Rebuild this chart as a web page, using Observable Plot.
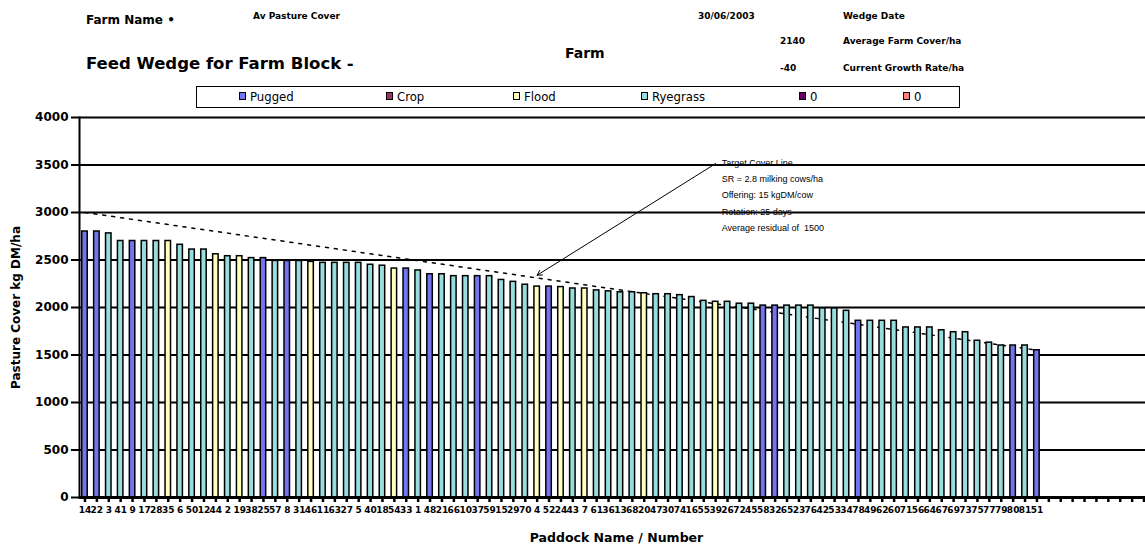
<!DOCTYPE html>
<html>
<head>
<meta charset="utf-8">
<script src="https://cdn.jsdelivr.net/npm/d3@7"></script>
<script src="https://cdn.jsdelivr.net/npm/@observablehq/plot@0.6"></script>
<style>
  body { margin: 0; background: #fff; }
  #page { position: relative; width: 1145px; height: 547px; overflow: hidden; background: #fff; font-family: "DejaVu Sans", sans-serif; color: #000; }
  .h { position: absolute; font-weight: bold; white-space: nowrap; line-height: 1; }
  #legend { position: absolute; left: 196px; top: 86px; width: 762px; height: 20px; border: 1.5px solid #000; background: #fff; }
  .sw { position: absolute; top: 5px; width: 5px; height: 6px; border: 1px solid #000; }
  .lt { position: absolute; top: 3px; font-family: "Liberation Sans Narrow", "DejaVu Sans Condensed", sans-serif; font-size: 13px; line-height: 1; }
  #chart { position: absolute; left: 0; top: 110px; }
</style>
</head>
<body>
<div id="page">
  <div id="header"></div>
  <div id="legend"></div>
  <div id="chart"></div>
</div>
<script>
// ---------------- data ----------------
const paddocks = ["14","22","3","41","9","17","28","35","6","50",
  "12","44","2","19","38","25","57","8","31","46",
  "11","63","27","5","40","18","54","33","1","48",
  "21","66","10","37","59","15","29","70","4","52",
  "24","43","7","61","36","13","68","20","47","30",
  "74","16","55","39","26","72","45","58","32","65",
  "23","76","42","53","34","78","49","62","60","71",
  "56","64","67","69","73","75","77","79","80","81","51"];
const spareSlots = ["s1","s2","s3","s4","s5","s6","s7","s8","s9"];
const cover = [2800,2800,2780,2700,2700,2700,2700,2700,2660,2610,
  2610,2560,2540,2540,2520,2520,2490,2490,2490,2480,
  2470,2470,2470,2470,2450,2440,2410,2410,2390,2350,
  2350,2330,2330,2330,2330,2290,2270,2240,2220,2220,
  2215,2200,2200,2180,2170,2160,2160,2150,2140,2140,
  2130,2110,2070,2060,2060,2040,2040,2020,2020,2020,
  2020,2020,1990,1990,1965,1860,1860,1860,1860,1790,
  1790,1790,1760,1740,1740,1650,1630,1600,1600,1600,1550];
const status = ["Pugged","Pugged","Ryegrass","Ryegrass","Pugged","Ryegrass","Ryegrass","Flood","Ryegrass","Ryegrass",
  "Ryegrass","Flood","Ryegrass","Flood","Ryegrass","Pugged","Ryegrass","Pugged","Ryegrass","Flood",
  "Ryegrass","Ryegrass","Ryegrass","Ryegrass","Ryegrass","Ryegrass","Flood","Pugged","Ryegrass","Pugged",
  "Ryegrass","Ryegrass","Ryegrass","Pugged","Ryegrass","Ryegrass","Ryegrass","Ryegrass","Flood","Pugged",
  "Flood","Ryegrass","Flood","Ryegrass","Ryegrass","Ryegrass","Ryegrass","Flood","Ryegrass","Ryegrass",
  "Ryegrass","Ryegrass","Ryegrass","Flood","Ryegrass","Ryegrass","Ryegrass","Pugged","Pugged","Ryegrass",
  "Ryegrass","Ryegrass","Ryegrass","Ryegrass","Ryegrass","Pugged","Ryegrass","Ryegrass","Ryegrass","Ryegrass",
  "Ryegrass","Ryegrass","Ryegrass","Ryegrass","Ryegrass","Ryegrass","Ryegrass","Ryegrass","Pugged","Ryegrass","Pugged"];
const legendNames = ["Pugged","Crop","Flood","Ryegrass","0","0"];
const legendColors = ["#7474f0","#993366","#ffffc0","#98dcdc","#660066","#ff8080"];
const yTicks = [0,500,1000,1500,2000,2500,3000,3500,4000];
// target cover line: start and end points (paddock index, cover)
const targetIndex = [0, 80];
const targetCover = [3000, 1550];
// annotation
const noteLines = ["Target Cover Line","SR = 2.8 milking cows/ha","Offering: 15 kgDM/cow","Rotation: 25 days","Average residual of  1500"];
const noteArrow = {fromIndex: 53, fromCover: 3515, toIndex: 38, toCover: 2340};
const noteTextCover = 3610;
const headerTexts = [
  {t:"Farm Name \u2022", x:86, y:14, s:12},
  {t:"Av Pasture Cover", x:253, y:12, s:9},
  {t:"Feed Wedge for Farm Block -", x:86, y:56, s:16.5},
  {t:"Farm", x:565, y:46, s:14},
  {t:"30/06/2003", x:698, y:12, s:9},
  {t:"2140", x:780, y:37, s:9},
  {t:"-40", x:780, y:64, s:9},
  {t:"Wedge Date", x:843, y:12, s:9},
  {t:"Average Farm Cover/ha", x:843, y:37, s:9},
  {t:"Current Growth Rate/ha", x:843, y:64, s:9}
];
const legendLeft = [42, 189, 316, 444, 602, 706];

// ---------------- header & legend ----------------
const header = document.getElementById("header");
for (const h of headerTexts) {
  const d = document.createElement("div");
  d.className = "h"; d.textContent = h.t;
  d.style.left = h.x + "px"; d.style.top = h.y + "px"; d.style.fontSize = h.s + "px";
  header.appendChild(d);
}
const legend = document.getElementById("legend");
legendNames.forEach((n, i) => {
  const s = document.createElement("div");
  s.className = "sw"; s.style.left = legendLeft[i] + "px"; s.style.background = legendColors[i];
  legend.appendChild(s);
  const t = document.createElement("div");
  t.className = "lt"; t.style.left = (legendLeft[i] + 11) + "px"; t.textContent = n;
  legend.appendChild(t);
});

// ---------------- chart ----------------
const rows = paddocks.map((p, i) => ({paddock: p, cover: cover[i], status: status[i]}));
const targetRows = targetIndex.map((k, j) => ({paddock: paddocks[k], cover: targetCover[j]}));
const arrowRows = [{x1: paddocks[noteArrow.fromIndex], y1: noteArrow.fromCover, x2: paddocks[noteArrow.toIndex], y2: noteArrow.toCover}];
const noteRows = [{paddock: paddocks[noteArrow.fromIndex], cover: noteTextCover, text: noteLines.join("\n")}];

const chart = Plot.plot({
  width: 1145, height: 437,
  marginTop: 7, marginBottom: 50, marginLeft: 79, marginRight: 0,
  style: {fontFamily: "DejaVu Sans, sans-serif", fontSize: "11px", fontWeight: "bold", color: "#000", background: "#fff"},
  x: {type: "band", domain: paddocks.concat(spareSlots), range: [79, 1149], paddingInner: 0.54, paddingOuter: 0.23},
  y: {domain: [0, 4000]},
  color: {domain: legendNames.slice(0, 4), range: legendColors.slice(0, 4)},
  marks: [
    Plot.ruleY(yTicks.slice(1), {stroke: "#000", strokeWidth: 2}),
    Plot.line(targetRows, {x: "paddock", y: "cover", stroke: "#000", strokeWidth: 1.5, strokeDasharray: "3,6"}),
    Plot.barY(rows, {x: "paddock", y: "cover", fill: "status", stroke: "#000", strokeWidth: 1.5}),
    Plot.ruleY([0], {stroke: "#000", strokeWidth: 3}),
    Plot.frame({anchor: "left", stroke: "#000", strokeWidth: 2}),
    Plot.axisY({ticks: yTicks, tickFormat: d => String(d), tickSize: 8, tickPadding: 3, fontSize: 12, label: null, strokeWidth: 2}),
    Plot.axisX({tickSize: 5, tickPadding: 4, fontSize: 9, label: null, strokeWidth: 2.5,
      tickFormat: d => spareSlots.includes(d) ? "" : d}),
    Plot.arrow(arrowRows, {x1: "x1", y1: "y1", x2: "x2", y2: "y2", stroke: "#000", strokeWidth: 1, headLength: 8}),
    Plot.text(noteRows, {x: "paddock", y: "cover", text: "text", dx: 6, textAnchor: "start", lineAnchor: "top",
      lineHeight: 1.8, fontSize: 9, fontWeight: "normal", fontFamily: "Liberation Sans, sans-serif"}),
    Plot.text(["Pasture Cover kg DM/ha"], {frameAnchor: "left", textAnchor: "middle", rotate: -90, dx: -63, fontSize: 12}),
    Plot.text(["Paddock Name / Number"], {frameAnchor: "bottom", textAnchor: "middle", dx: 4, dy: 44, fontSize: 12.5})
  ]
});
document.getElementById("chart").appendChild(chart);
</script>
</body>
</html>
